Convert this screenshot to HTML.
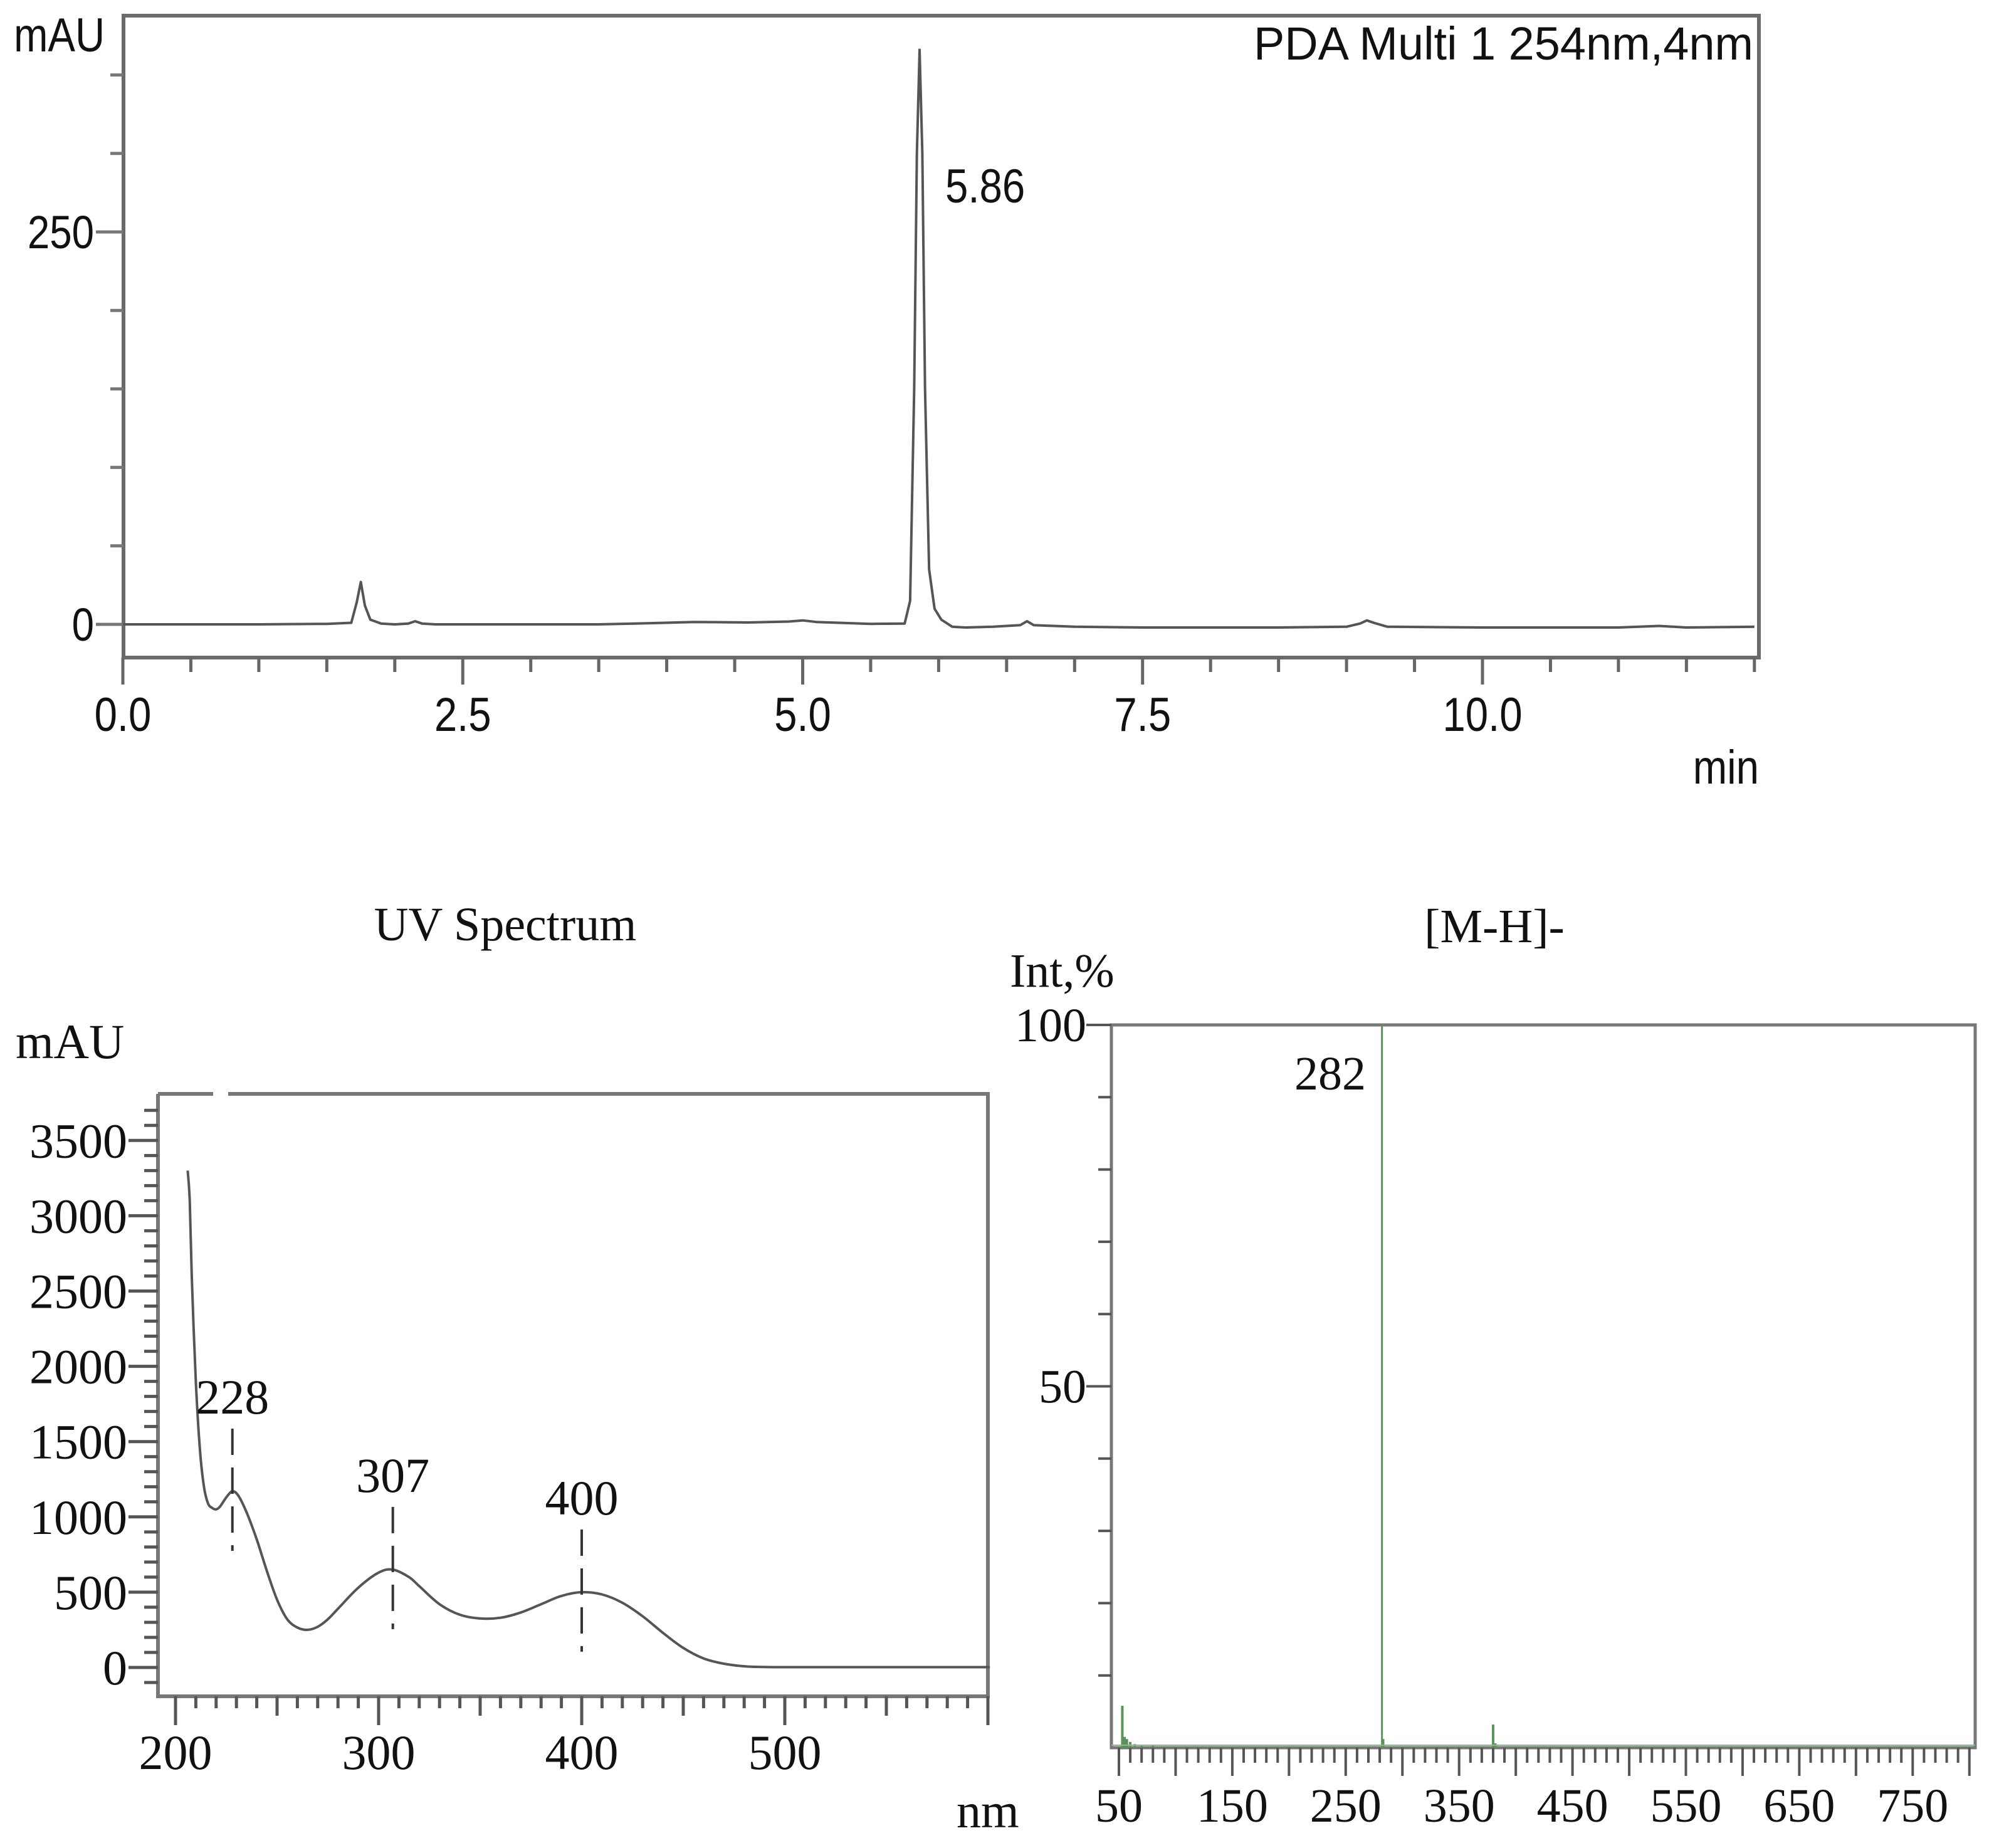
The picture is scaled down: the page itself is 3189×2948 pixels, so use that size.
<!DOCTYPE html>
<html><head><meta charset="utf-8">
<style>
html,body{margin:0;padding:0;background:#fff;}
svg{display:block;}
.sans{font-family:"Liberation Sans",Arial,sans-serif;}
.serif{font-family:"Liberation Serif","Times New Roman",serif;}
</style></head>
<body>
<svg id="root" width="3189" height="2948" viewBox="0 0 3189 2948" xmlns="http://www.w3.org/2000/svg">
<g id="top"></g>
<g id="uv"></g>
<g id="ms"></g>
</svg>
<script>
// ---------- Chromatogram data ----------
const chromTime = [0,0.5,1.0,1.5,1.68,1.72,1.75,1.78,1.82,1.9,2.0,2.1,2.15,2.2,2.3,3.0,3.5,3.9,4.2,4.6,4.9,5.0,5.1,5.5,5.75,5.79,5.82,5.84,5.86,5.88,5.9,5.93,5.97,6.02,6.1,6.2,6.4,6.6,6.65,6.7,7.0,7.5,8.5,9.0,9.1,9.15,9.2,9.3,10.0,11.0,11.3,11.5,12.0];
const chromAbs  = [0,0,0,0.3,1,14,27,12,3,0.5,0,0.5,2,0.5,0,0,0,0.8,1.5,1.2,1.8,2.5,1.5,0.3,0.5,15,150,300,366,300,150,35,10,3,-1.5,-2,-1.5,-0.5,2,-0.5,-1.5,-2,-2,-1.5,0.5,2.5,1,-1.5,-2,-2,-1,-2,-1.5];
const chromXTicks = [0.0,2.5,5.0,7.5,10.0];
const chromXLabels = ["0.0","2.5","5.0","7.5","10.0"];
const chromYTicks = [0,250];
const chromYLabels = ["0","250"];

// ---------- UV spectrum data ----------
const uvNm  = [206,207,208,210,212,214,216,218,220,222,225,228,231,235,240,245,250,255,260,265,270,275,280,290,300,307,315,320,330,340,350,360,370,380,390,400,410,420,430,440,450,460,470,480,490,500,550,601];
const uvAbs = [3300,3100,2600,1900,1450,1200,1090,1060,1050,1070,1130,1170,1140,1030,850,640,450,320,265,250,270,320,390,530,630,650,600,540,420,350,325,330,365,420,475,500,485,430,340,230,130,60,25,8,3,2,2,2];
const uvXTicks = [200,300,400,500];
const uvYTicks = [0,500,1000,1500,2000,2500,3000,3500];
const uvPeaks = [228,307,400];
const uvPeakLabels = ["228","307","400"];

// ---------- MS data ----------
const msMz  = [53,55,57,60,64,70,80,282,283,380,382];
const msInt = [5.8,1.5,1.2,0.8,0.5,0.4,0.3,100,1.2,3.2,0.6];
const msXTicks = [50,150,250,350,450,550,650,750];
const msYTicks = [50,100];

const NS="http://www.w3.org/2000/svg";
function el(parent,tag,attrs,text){
  const e=document.createElementNS(NS,tag);
  for(const k in attrs) e.setAttribute(k,attrs[k]);
  if(text!==undefined) e.textContent=text;
  parent.appendChild(e); return e;
}
function smoothPath(pts){
  let d='M'+pts[0][0].toFixed(1)+','+pts[0][1].toFixed(1);
  for(let i=0;i<pts.length-1;i++){
    const p0=pts[Math.max(0,i-1)],p1=pts[i],p2=pts[i+1],p3=pts[Math.min(pts.length-1,i+2)];
    const c1x=p1[0]+(p2[0]-p0[0])/6,c1y=p1[1]+(p2[1]-p0[1])/6;
    const c2x=p2[0]-(p3[0]-p1[0])/6,c2y=p2[1]-(p3[1]-p1[1])/6;
    d+=` C${c1x.toFixed(1)},${c1y.toFixed(1)} ${c2x.toFixed(1)},${c2y.toFixed(1)} ${p2[0].toFixed(1)},${p2[1].toFixed(1)}`;
  }
  return d;
}
const SX=0.86;
function ctext(g,x,y,anchor,size,str){
  const t=el(g,'text',{x:x/SX,y:y,'text-anchor':anchor,'font-size':size,class:'sans',fill:'#111',transform:`scale(${SX},1)`},str);
  return t;
}

// ===== Top chromatogram =====
(function(){
  const g=document.getElementById('top');
  const L=197,R=2806,T=25,B=1049;
  const x=t=>196+t*216.9, y=v=>996-v*626/250;
  let f=el(g,'path',{d:`M${L},${B} L${L},${T} L${R},${T} L${R},${B} Z`,fill:'none',stroke:'#6a6a6a','stroke-width':6});
  
  
  for(let v=-50;v<=400;v+=50){
    const yy=y(v); if(yy<T||yy>B) continue;
    const major=chromYTicks.indexOf(v)>=0;
    const t=el(g,'line',{x1:major?153:176,x2:L,y1:yy,y2:yy,stroke:'#777','stroke-width':5});
    
    
  }
  chromYTicks.forEach((v,i)=>{
    const t=ctext(g,150,y(v)+26,'end',74,chromYLabels[i]);
    
    
  });
  for(let k=0;k<=24;k++){
    const t=k*0.5, xx=x(t); if(xx>R+2) continue;
    const major=(k%5===0);
    const tk=el(g,'line',{x1:xx,x2:xx,y1:B,y2:major?1092:1072,stroke:'#666','stroke-width':5});
    
    
  }
  chromXTicks.forEach((t,i)=>{
    const tx=ctext(g,x(t),1166,'middle',76,chromXLabels[i]);
    
    
  });
  let d=chromTime.map((t,i)=>(i?'L':'M')+x(t).toFixed(1)+','+y(chromAbs[i]).toFixed(1)).join(' ');
  const p=el(g,'path',{d:d,fill:'none',stroke:'#555','stroke-width':4,'stroke-linejoin':'round'});
  
  
  const a=ctext(g,22,82,'start',76,'mAU');
  
  
  const m=ctext(g,2806,1250,'end',76,'min');
  
  
  const h=el(g,'text',{x:2000,y:95,'font-size':74,class:'sans',fill:'#111',textLength:797,lengthAdjust:'spacingAndGlyphs'},'PDA Multi 1 254nm,4nm');
  
  
  const pk=ctext(g,1508,323,'start',76,'5.86');
  
  
})();

// ===== UV spectrum =====
(function(){
  const g=document.getElementById('uv');
  const L=252,R=1576,T=1745,B=2706;
  const x=n=>280+(n-200)*3.24, y=v=>2660-v*120.1/500;
  let f=el(g,'path',{d:`M${L},${T} L${L},${B} L${R},${B} L${R},${T} L364,${T} M340,${T} L${L},${T}`,fill:'none',stroke:'#777','stroke-width':6});
  
  
  for(let v=-200;v<=3800;v+=100){
    const yy=y(v); if(yy<T+10||yy>B-5) continue;
    const major=(v%500===0);
    const t=el(g,'line',{x1:major?205:230,x2:L,y1:yy,y2:yy,stroke:'#555','stroke-width':5});
    
    
  }
  uvYTicks.forEach(v=>{
    const t=el(g,'text',{x:203,y:y(v)+27,'text-anchor':'end','font-size':78,class:'serif',fill:'#111'},String(v));
    
    
  });
  for(let n=200;n<=600;n+=10){
    const xx=x(n); if(xx>R) continue;
    const len=(n%100===0)?46:(n%50===0?31:19);
    const t=el(g,'line',{x1:xx,x2:xx,y1:B,y2:B+len,stroke:'#555','stroke-width':5});
    
    
  }
  uvXTicks.forEach(n=>{
    const t=el(g,'text',{x:x(n),y:2822,'text-anchor':'middle','font-size':78,class:'serif',fill:'#111'},String(n));
    
    
  });
  const pts=uvNm.map((n,i)=>[x(n),y(uvAbs[i])]);
  const p=el(g,'path',{d:smoothPath(pts),fill:'none',stroke:'#555','stroke-width':4,'stroke-linejoin':'round'});
  
  
  uvPeaks.forEach((n,i)=>{
    const idx=uvNm.indexOf(n); const v=uvAbs[idx];
    const dl=el(g,'line',{x1:x(n),x2:x(n),y1:y(v)-100,y2:y(v)+95,stroke:'#333','stroke-width':4,'stroke-dasharray':'42,20'});
    
    
    const t=el(g,'text',{x:x(n),y:y(v)-124,'text-anchor':'middle','font-size':78,class:'serif',fill:'#111'},uvPeakLabels[i]);
    
    
  });
  const a=el(g,'text',{x:25,y:1688,'font-size':78,class:'serif',fill:'#111'},'mAU');
  
  
  const nm=el(g,'text',{x:1526,y:2915,'font-size':78,class:'serif',fill:'#111'},'nm');
  
  
  const tt=el(g,'text',{x:806,y:1500,'text-anchor':'middle','font-size':76,class:'serif',fill:'#111'},'UV Spectrum');
  
  
})();

// ===== Mass spectrum =====
(function(){
  const g=document.getElementById('ms');
  const L=1773,R=3151,T=1635,B=2788;
  const x=m=>1785+(m-50)*1.809, y=v=>B-v*(B-T)/100;
  let f=el(g,'rect',{x:L,y:T,width:R-L,height:B-T,fill:'none',stroke:'#777','stroke-width':5});
  
  
  for(let v=10;v<=100;v+=10){
    const major=msYTicks.indexOf(v)>=0;
    const t=el(g,'line',{x1:major?1733:1752,x2:L,y1:y(v),y2:y(v),stroke:'#555','stroke-width':4});
    
    
  }
  msYTicks.forEach(v=>{
    const t=el(g,'text',{x:1733,y:y(v)+26,'text-anchor':'end','font-size':76,class:'serif',fill:'#111'},String(v));
    
    
  });
  for(let m=50;m<=800;m+=10){
    const xx=x(m); if(xx>R) continue;
    const len=(m%50===0)?45:24;
    const t=el(g,'line',{x1:xx,x2:xx,y1:B,y2:B+len,stroke:'#555','stroke-width':4});
    
    
  }
  msXTicks.forEach(m=>{
    const t=el(g,'text',{x:x(m),y:2906,'text-anchor':'middle','font-size':76,class:'serif',fill:'#111'},String(m));
    
    
  });
  msMz.forEach((m,i)=>{
    const b=el(g,'line',{x1:x(m),x2:x(m),y1:B,y2:y(msInt[i]),stroke:'#5a925a','stroke-width':m===282?3:4});
    
    
  });
  const bl=el(g,'line',{x1:L,x2:R,y1:B-4,y2:B-4,stroke:'#8ab88a','stroke-width':2});
  
  
  const pl=el(g,'text',{x:2179,y:1738,'text-anchor':'end','font-size':76,class:'serif',fill:'#111'},'282');
  
  
  const a=el(g,'text',{x:1611,y:1574,'font-size':76,class:'serif',fill:'#111'},'Int,%');
  
  
  const tt=el(g,'text',{x:2384,y:1503,'text-anchor':'middle','font-size':76,class:'serif',fill:'#111'},'[M-H]-');
  
  
})();
</script>
</body></html>
